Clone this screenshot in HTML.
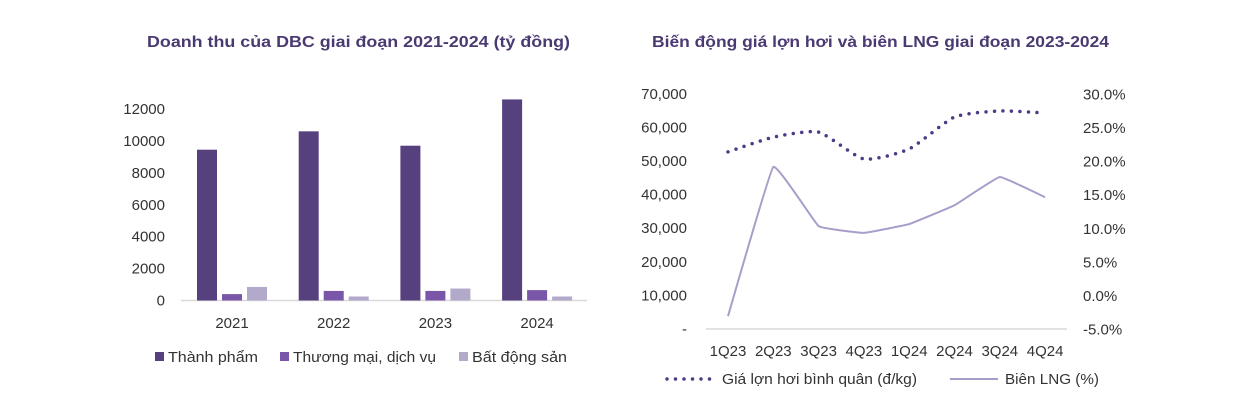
<!DOCTYPE html>
<html><head><meta charset="utf-8"><style>
body{margin:0;background:#fff;width:1242px;height:415px;overflow:hidden;font-family:"Liberation Sans",sans-serif}
svg text{font-family:"Liberation Sans",sans-serif}
</style></head><body>
<svg id="c" width="1242" height="415">
<text x="147" y="47" font-size="16" font-weight="bold" fill="#4b3a72" textLength="423" lengthAdjust="spacingAndGlyphs">Doanh thu của DBC giai đoạn 2021-2024 (tỷ đồng)</text>
<text x="652" y="47" font-size="16" font-weight="bold" fill="#4b3a72" textLength="457" lengthAdjust="spacingAndGlyphs">Biến động giá lợn hơi và biên LNG giai đoạn 2023-2024</text>
<g id="L"></g><g id="R"></g>
</svg>
<script>
const years=['2021','2022','2023','2024'];
const thanhPham=[9450,10600,9700,12600];
const thuongMai=[400,600,600,650];
const batDongSan=[850,250,750,250];
const leftTicks=[0,2000,4000,6000,8000,10000,12000];
const quarters=['1Q23','2Q23','3Q23','4Q23','1Q24','2Q24','3Q24','4Q24'];
const price=[52700,57100,58600,50600,53600,63100,64900,64300];
const margin=[-3.0,19.2,10.4,9.4,10.7,13.5,17.7,14.7];
const priceTicks=[0,10000,20000,30000,40000,50000,60000,70000];
const marginTicks=[-5,0,5,10,15,20,25,30];
const NS='http://www.w3.org/2000/svg';
function mk(p,t,a,txt){const e=document.createElementNS(NS,t);for(const k in a)e.setAttribute(k,a[k]);if(txt!==undefined)e.textContent=txt;p.appendChild(e);return e;}
const L=document.getElementById('L'),R=document.getElementById('R');
const ly=v=>300.5-v/12000*191.5;
const lx=i=>232+i*101.7;
leftTicks.forEach(t=>{const e=mk(L,'text',{x:165,y:ly(t)+5,'text-anchor':'end','font-size':15,fill:'#333'},String(t));

});
mk(L,'line',{x1:181,x2:587,y1:300.5,y2:300.5,stroke:'#d9d9d9','stroke-width':1.5,});
const series=[[thanhPham,'#56407d'],[thuongMai,'#7a56a8'],[batDongSan,'#b3aacb']];
years.forEach((y,i)=>{
 series.forEach((s,j)=>{const v=s[0][i];const r=mk(L,'rect',{x:lx(i)-35+j*25,y:ly(v),width:20,height:300.5-ly(v),fill:s[1]});
 
 });
 const t=mk(L,'text',{x:lx(i),y:328,'text-anchor':'middle','font-size':15,fill:'#333'},y);
 
 
});
[['Thành phẩm',155,'#56407d',90],['Thương mại, dịch vụ',280,'#7a56a8',143],['Bất động sản',459,'#b3aacb',95]].forEach((l,i)=>{
 const g=mk(L,'g',{});
 
 
 mk(g,'rect',{x:l[1],y:352,width:9,height:9,fill:l[2]});
 mk(g,'text',{x:l[1]+13,y:362,'font-size':15,fill:'#333',textLength:l[3],lengthAdjust:'spacingAndGlyphs'},l[0]);
});
const py=v=>329-v/10000*33.6;
const my=v=>296-v/5*33.6;
const rx=i=>728+i*45.3;
priceTicks.forEach(t=>{const e=mk(R,'text',{x:687,y:py(t)+5,'text-anchor':'end','font-size':15,fill:'#333'},t===0?'-':t.toLocaleString('en-US'));

});
marginTicks.forEach(t=>{const e=mk(R,'text',{x:1083,y:my(t)+5,'font-size':15,fill:'#333'},t.toFixed(1)+'%');

});
mk(R,'line',{x1:706,x2:1067,y1:329,y2:329,stroke:'#d9d9d9','stroke-width':1.5,});
quarters.forEach((q,i)=>{const t=mk(R,'text',{x:rx(i),y:356,'text-anchor':'middle','font-size':15,fill:'#333'},q);

});
function smooth(pts,k){let d='M'+pts[0][0]+','+pts[0][1];for(let i=0;i<pts.length-1;i++){const p0=pts[i-1]||pts[i],p1=pts[i],p2=pts[i+1],p3=pts[i+2]||p2;d+=' C'+(p1[0]+(p2[0]-p0[0])*k)+','+(p1[1]+(p2[1]-p0[1])*k)+' '+(p2[0]-(p3[0]-p1[0])*k)+','+(p2[1]-(p3[1]-p1[1])*k)+' '+p2[0]+','+p2[1];}return d;}
const mpath=mk(R,'path',{d:smooth(margin.map((v,i)=>[rx(i),my(v)]),0.04),fill:'none',stroke:'#a99dc9','stroke-width':2,'stroke-linejoin':'round'});


const ppath=mk(R,'path',{d:smooth(price.map((v,i)=>[rx(i),py(v)]),0.1),fill:'none',stroke:'#4e3a85','stroke-width':3.5,'stroke-linecap':'round','stroke-dasharray':'0 8.5'});


const g1=mk(R,'g',{});


mk(g1,'line',{x1:667,x2:715,y1:379,y2:379,stroke:'#4e3a85','stroke-width':3.5,'stroke-linecap':'round','stroke-dasharray':'0 8.5'});
mk(g1,'text',{x:722,y:384,'font-size':15,fill:'#333',textLength:195,lengthAdjust:'spacingAndGlyphs'},'Giá lợn hơi bình quân (đ/kg)');
const g2=mk(R,'g',{});


mk(g2,'line',{x1:950,x2:998,y1:379,y2:379,stroke:'#a99dc9','stroke-width':2});
mk(g2,'text',{x:1005,y:384,'font-size':15,fill:'#333',textLength:94,lengthAdjust:'spacingAndGlyphs'},'Biên LNG (%)');
</script>
</body></html>
